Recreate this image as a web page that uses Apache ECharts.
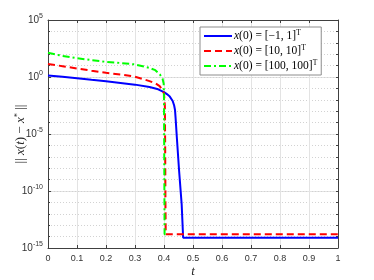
<!DOCTYPE html>
<html>
<head>
<meta charset="utf-8">
<script src="https://cdn.jsdelivr.net/npm/echarts@6/dist/echarts.min.js"></script>
<style>html,body{margin:0;padding:0;background:#fff;}#c{width:374px;height:280px;}</style>
</head>
<body>
<div id="c"></div>
<script>
// Series 1: x(0) = [-1, 1]^T
var tBlue = [0, 0.05, 0.1, 0.15, 0.2, 0.25, 0.3, 0.35, 0.38, 0.4, 0.41, 0.42, 0.43, 0.435, 0.438, 0.44, 0.444, 0.452, 0.461, 0.466, 1];
var yBlue = [1.38, 1.07, 0.794, 0.575, 0.417, 0.302, 0.214, 0.132, 0.0832, 0.0468, 0.0316, 0.0191, 0.00794, 0.00316, 0.00126, 2.5e-4, 6.3e-6, 6.3e-9, 6.3e-12, 7.9e-15, 7.9e-15];
// Series 2: x(0) = [10, 10]^T
var tRed = [0, 0.05, 0.1, 0.15, 0.2, 0.25, 0.3, 0.35, 0.37, 0.385, 0.395, 0.4, 0.403, 0.404, 0.405, 0.406, 1];
var yRed = [13.8, 8.9, 5.6, 3.55, 2.34, 1.66, 1.07, 0.437, 0.282, 0.158, 0.0708, 0.0355, 3.16e-3, 1e-6, 1e-11, 1.58e-14, 1.58e-14];
// Series 3: x(0) = [100, 100]^T
var tGreen = [0, 0.05, 0.1, 0.15, 0.2, 0.25, 0.3, 0.35, 0.37, 0.386, 0.395, 0.399, 0.4, 0.401, 0.402, 0.414];
var yGreen = [132, 70.8, 44.7, 30.2, 21.4, 17, 12.6, 6.31, 3.98, 1.66, 0.708, 0.251, 0.01, 1e-8, 1.58e-14, 1.58e-14];

var seriesNames = ['s1', 's2', 's3'];
var legendTexts = {
  s1: '{i|x}{n|(0) = [\u22121, 1]}{s|T}',
  s2: '{i|x}{n|(0) = [10, 10]}{s|T}',
  s3: '{i|x}{n|(0) = [100, 100]}{s|T}'
};
var xTickMin = 0, xTickMax = 1, xTickStep = 0.1;
var yMin = 1e-15, yMax = 1e5;

function pairs(t, y) { return t.map(function (v, i) { return [v, y[i]]; }); }

var serif = 'Liberation Serif';
var chart = echarts.init(document.getElementById('c'), null, {renderer: 'canvas'});
var axisColor = '#404040';
var gridColor = '#e3e3e3';
var minorColor = '#d2d2d2';

chart.setOption({
  animation: false,
  backgroundColor: '#ffffff',
  grid: {left: 48, right: 36, top: 20, bottom: 32, containLabel: false, outerBoundsMode: 'none'},
  legend: {
    data: seriesNames,
    orient: 'vertical',
    left: 200, top: 27,
    padding: [2, 4, 2, 3],
    itemGap: 1,
    itemWidth: 28, itemHeight: 8,
    backgroundColor: '#ffffff',
    borderColor: '#8c8c8c', borderWidth: 1,
    itemStyle: {opacity: 0},
    formatter: function (n) { return legendTexts[n]; },
    textStyle: {
      padding: [0, 0, 0, -3],
      rich: {
        i: {fontFamily: serif, fontStyle: 'italic', fontSize: 11.5, color: '#000', lineHeight: 15},
        n: {fontFamily: serif, fontSize: 11.5, color: '#000', lineHeight: 15},
        s: {fontFamily: serif, fontSize: 7.5, color: '#000', padding: [0, 0, 6, 0], lineHeight: 15}
      }
    }
  },
  xAxis: [{
    type: 'value', min: xTickMin, max: xTickMax, interval: xTickStep,
    position: 'bottom',
    name: 't', nameLocation: 'middle', nameGap: 17, nameMoveOverlap: false,
    nameTextStyle: {fontFamily: serif, fontStyle: 'italic', fontSize: 13, color: '#262626'},
    axisLine: {show: true, lineStyle: {color: axisColor, width: 1}},
    axisTick: {show: true, inside: true, length: 3, lineStyle: {color: axisColor}},
    axisLabel: {color: '#333', fontSize: 9, margin: 6, fontFamily: 'Liberation Sans',
      formatter: function (v) { return String(Math.round(v * 10) / 10); }},
    splitLine: {show: true, lineStyle: {color: gridColor, width: 1}}
  }, {
    type: 'value', min: xTickMin, max: xTickMax, interval: xTickStep,
    position: 'top',
    axisLine: {show: true, lineStyle: {color: axisColor, width: 1}},
    axisTick: {show: true, inside: true, length: 3, lineStyle: {color: axisColor}},
    axisLabel: {show: false},
    splitLine: {show: false}
  }],
  yAxis: [{
    type: 'log', logBase: 10, min: yMin, max: yMax, interval: 5,
    position: 'left',
    name: '{n||| }{i|x}{n|(}{i|t}{n|) \u2212 }{i|x}{s|*}{n| ||}',
    nameLocation: 'middle', nameGap: 20, nameRotate: 90, nameMoveOverlap: false,
    nameTextStyle: {
      rich: {
        i: {fontFamily: serif, fontStyle: 'italic', fontSize: 13, color: '#262626'},
        n: {fontFamily: serif, fontSize: 13, color: '#262626'},
        s: {fontFamily: serif, fontSize: 8.5, color: '#262626', padding: [0, 0, 6, 0]}
      }
    },
    axisLine: {show: true, lineStyle: {color: axisColor, width: 1}},
    axisTick: {show: true, inside: true, length: 3, lineStyle: {color: axisColor}},
    minorTick: {show: false},
    axisLabel: {
      color: '#333', fontSize: 10, margin: 5, fontFamily: 'Liberation Sans',
      formatter: function (v) { var e = Math.round(Math.log10(v)); return '10{s|' + e + '}'; },
      rich: {s: {fontSize: 7, color: '#333', fontFamily: 'Liberation Sans', padding: [0, 0, 7, 0]}}
    },
    splitLine: {show: true, lineStyle: {color: gridColor, width: 1}}
  }, {
    type: 'log', logBase: 10, min: yMin, max: yMax, interval: 1,
    position: 'left',
    axisLine: {show: false},
    axisTick: {show: true, inside: true, length: 2, lineStyle: {color: axisColor}},
    axisLabel: {show: false},
    splitLine: {show: true, lineStyle: {color: minorColor, width: 1, type: [1, 2]}}
  }, {
    type: 'log', logBase: 10, min: yMin, max: yMax, interval: 1,
    position: 'right',
    axisLine: {show: true, lineStyle: {color: axisColor, width: 1}},
    axisTick: {show: true, inside: true, length: 2, lineStyle: {color: axisColor}},
    axisLabel: {show: false},
    splitLine: {show: false}
  }],
  series: [{
    name: 's1', type: 'line', xAxisIndex: 0, yAxisIndex: 0,
    data: pairs(tBlue, yBlue), showSymbol: false, symbol: 'none',
    lineStyle: {color: '#0000ff', width: 2, type: 'solid'}, itemStyle: {color: '#0000ff'}, z: 3
  }, {
    name: 's2', type: 'line', xAxisIndex: 0, yAxisIndex: 0,
    data: pairs(tRed, yRed), showSymbol: false, symbol: 'none',
    lineStyle: {color: '#ff0000', width: 2, type: [7, 4]}, itemStyle: {color: '#ff0000'}, z: 4
  }, {
    name: 's3', type: 'line', xAxisIndex: 0, yAxisIndex: 0,
    data: pairs(tGreen, yGreen), showSymbol: false, symbol: 'none',
    lineStyle: {color: '#00ff00', width: 2, type: [7, 3, 2, 3]}, itemStyle: {color: '#00ff00'}, z: 5
  }]
});
</script>
</body>
</html>
